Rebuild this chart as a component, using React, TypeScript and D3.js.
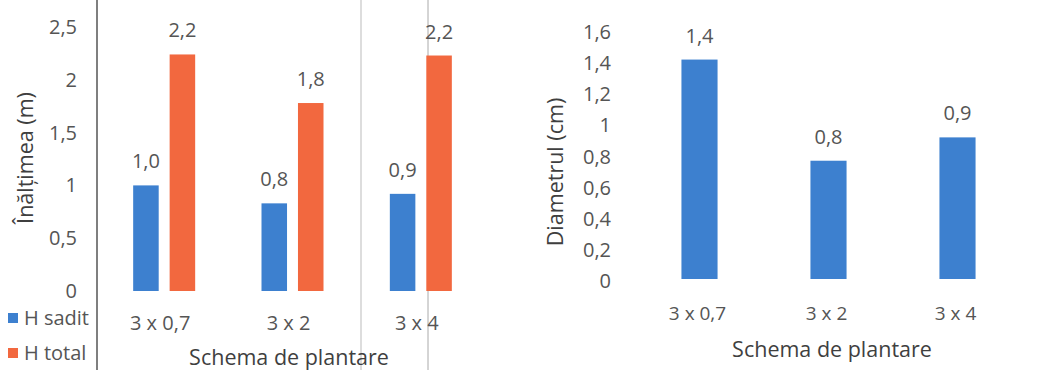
import React from "react";
import * as d3 from "d3";

const categories = ["3 x 0,7", "3 x 2", "3 x 4"];
const hSadit = [1.0, 0.83, 0.92];
const hTotal = [2.24, 1.78, 2.23];
const diametru = [1.41, 0.76, 0.91];
const leftTicks = [0, 0.5, 1, 1.5, 2, 2.5];
const rightTicks = [0, 0.2, 0.4, 0.6, 0.8, 1, 1.2, 1.4, 1.6];
const legendLabels = ["H sadit", "H total"];

const BLUE = "#3d80cf";
const ORANGE = "#f2683f";
const TEXT = "#555";
const TITLE = "#3f3f3f";
const FONT = "'Open Sans', sans-serif";

const fmtTick = (v: number) => String(v).replace(".", ",");
const fmtVal = (v: number) => v.toFixed(1).replace(".", ",");

export default function App() {
  // left chart
  const lx = d3.scaleBand<string>().domain(categories).range([100, 485]).paddingInner(0).paddingOuter(0);
  const ly = d3.scaleLinear().domain([0, 2.5]).range([291, 27]);
  const sub = d3.scaleBand<string>().domain(["s", "t"]).range([0, 62]).paddingInner(0.3);

  // right chart
  const rx = d3.scaleBand<string>().domain(categories).range([635, 1022]).paddingInner(0.72).paddingOuter(0.36);
  const ry = d3.scaleLinear().domain([0, 1.6]).range([279, 30]);

  const leftGroupCenter = (c: string) => (lx(c) as number) + lx.bandwidth() / 2;
  const FS = 20;
  const TS = 21.5;

  return (
    <svg width={1056} height={370} style={{ position: "absolute", left: 0, top: 0, background: "#fff" }} fontFamily={FONT}>
      <rect x={0} y={0} width={1056} height={370} fill="#fff" />
      {/* scan frame lines */}
      <line x1={97} x2={97} y1={0} y2={370} stroke="#555" strokeWidth={1.5} />
      <line x1={361} x2={361} y1={0} y2={370} stroke="#bbb" strokeWidth={1} />
      <line x1={428} x2={428} y1={0} y2={370} stroke="#aaa" strokeWidth={1} />

      {/* LEFT CHART */}
      <text transform={`translate(33,158) rotate(-90)`} textAnchor="middle" fontSize={TS} fontWeight={500} fill={TITLE}>
        Înălțimea (m)
      </text>
      {leftTicks.map((t) => (
        <text key={t} x={77} y={ly(t)} dy="0.35em" textAnchor="end" fontSize={FS} fill={TEXT}>
          {fmtTick(t)}
        </text>
      ))}
      {categories.map((c, i) => {
        const gx = leftGroupCenter(c) - 31;
        const bx = gx + (sub("s") as number);
        const ox = gx + (sub("t") as number);
        return (
          <g key={c}>
            <rect x={bx} y={ly(hSadit[i])} width={sub.bandwidth()} height={ly(0) - ly(hSadit[i])} fill={BLUE} />
            <rect x={ox} y={ly(hTotal[i])} width={sub.bandwidth()} height={ly(0) - ly(hTotal[i])} fill={ORANGE} />
            <text x={bx + sub.bandwidth() / 2} y={ly(hSadit[i]) - 17} textAnchor="middle" fontSize={FS} fill={TEXT}>
              {fmtVal(hSadit[i])}
            </text>
            <text x={ox + sub.bandwidth() / 2} y={ly(hTotal[i]) - 17} textAnchor="middle" fontSize={FS} fill={TEXT}>
              {fmtVal(hTotal[i])}
            </text>
            <text x={leftGroupCenter(c) - 4} y={330} textAnchor="middle" fontSize={FS} fill={TEXT}>
              {c}
            </text>
          </g>
        );
      })}
      <text x={289} y={365} textAnchor="middle" fontSize={TS} fontWeight={500} fill={TITLE}>
        Schema de plantare
      </text>
      {/* legend */}
      {legendLabels.map((l, i) => (
        <g key={l}>
          <rect x={8} y={313 + i * 35} width={10} height={10} fill={i === 0 ? BLUE : ORANGE} />
          <text x={24} y={318 + i * 35} dy="0.35em" fontSize={FS} fill={TEXT}>
            {l}
          </text>
        </g>
      ))}

      {/* RIGHT CHART */}
      <text transform={`translate(563,172) rotate(-90)`} textAnchor="middle" fontSize={TS} fontWeight={500} fill={TITLE}>
        Diametrul (cm)
      </text>
      {rightTicks.map((t) => (
        <text key={t} x={611} y={ry(t) + 2} dy="0.35em" textAnchor="end" fontSize={FS} fill={TEXT}>
          {fmtTick(t)}
        </text>
      ))}
      {categories.map((c, i) => {
        const x = rx(c) as number;
        return (
          <g key={c}>
            <rect x={x} y={ry(diametru[i])} width={rx.bandwidth()} height={ry(0) - ry(diametru[i])} fill={BLUE} />
            <text x={x + rx.bandwidth() / 2} y={ry(diametru[i]) - 17} textAnchor="middle" fontSize={FS} fill={TEXT}>
              {fmtVal(diametru[i])}
            </text>
            <text x={x + rx.bandwidth() / 2 - 2} y={320} textAnchor="middle" fontSize={19} fill={TEXT}>
              {c}
            </text>
          </g>
        );
      })}
      <text x={832} y={357} textAnchor="middle" fontSize={TS} fontWeight={500} fill={TITLE}>
        Schema de plantare
      </text>
    </svg>
  );
}
